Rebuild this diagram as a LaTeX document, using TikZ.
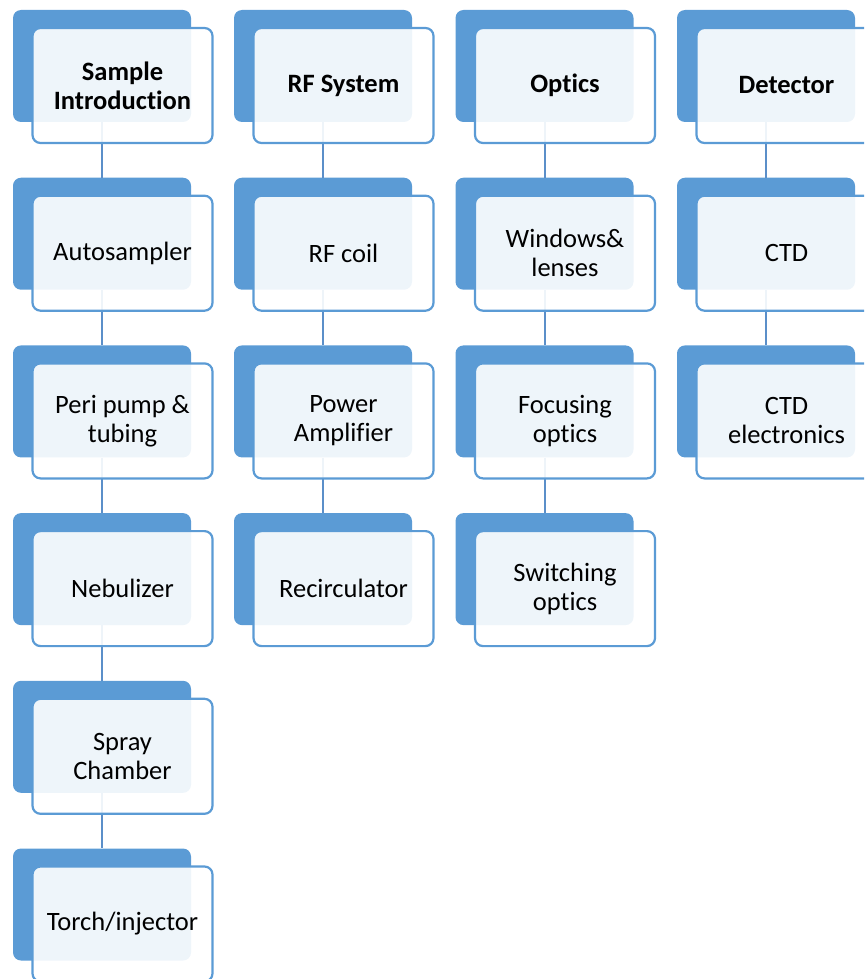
\documentclass[tikz,border=0pt]{standalone}
\usepackage{fontspec}
\setmainfont{Carlito}[Ligatures={NoCommon}]
\usetikzlibrary{calc}
\definecolor{acc}{HTML}{5B9BD5}
\definecolor{conn}{HTML}{5B8FC9}
\begin{document}
\begin{tikzpicture}[x=1pt,y=-1pt,
  backbox/.style={rectangle,rounded corners=8pt,fill=acc,minimum width=178pt,minimum height=112pt,inner sep=0pt},
  frontbox/.style={rectangle,rounded corners=8pt,draw=acc,line width=2.2pt,fill=white,fill opacity=0.9,text opacity=1,
     minimum width=180pt,minimum height=115pt,inner sep=0pt,align=center,
     font=\fontsize{26.5pt}{29pt}\selectfont},
  hd/.style={font=\fontsize{26.5pt}{29pt}\selectfont\bfseries},
  link/.style={draw=conn,line width=2pt}]
\useasboundingbox (0,0) rectangle (864,979);
\clip (0,0) rectangle (864,979);
% back boxes
\foreach \c/\x/\n in {1/13/6,2/234/4,3/455.5/4,4/677/3}{
  \foreach \r in {1,...,\n}{
    \node[backbox] (b\c\r) at ({\x+89},{10+(\r-1)*167.7+56}) {};
  }
}
% connectors
\foreach \c/\n in {1/6,2/4,3/4,4/3}{
  \foreach \r in {2,...,\n}{
    \pgfmathtruncatemacro{\p}{\r-1}
    \draw[link] (b\c\p.south) -- (b\c\r.north);
  }
}
% front boxes
\foreach \c/\r/\t/\h in {
  1/1/{Sample\\Introduction}/1, 1/2/{Autosampler}/0, 1/3/{Peri pump \&\\tubing}/0,
  1/4/{Nebulizer}/0, 1/5/{Spray\\Chamber}/0, 1/6/{Torch/injector}/0,
  2/1/{RF System}/1, 2/2/{RF coil}/0, 2/3/{Power\\Amplifier}/0, 2/4/{Recirculator}/0,
  3/1/{Optics}/1, 3/2/{Windows\&\\lenses}/0, 3/3/{Focusing\\optics}/0, 3/4/{Switching\\optics}/0,
  4/1/{Detector}/1, 4/2/{CTD}/0, 4/3/{CTD\\electronics}/0}{
  \ifnum\h=1
    \node[frontbox,hd] (f\c\r) at ($(b\c\r.center)+(20.5,19.5)$) {\t};
  \else
    \node[frontbox] (f\c\r) at ($(b\c\r.center)+(20.5,19.5)$) {\t};
  \fi
}
\end{tikzpicture}
\end{document}
